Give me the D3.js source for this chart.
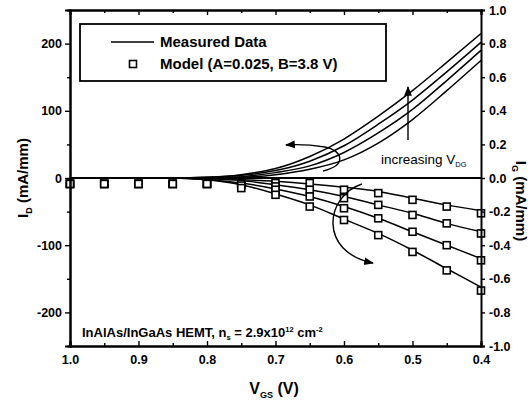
<!DOCTYPE html>
<html>
<head>
<meta charset="utf-8">
<title>HEMT drain and gate current</title>
<script src="https://cdn.jsdelivr.net/npm/d3@7"></script>
<style>
  body { margin: 0; background: #fff; }
  text { font-family: "Liberation Sans", Arial, sans-serif; fill: #000; }
</style>
</head>
<body>
<div id="chart"></div>
<script>
// gate voltage grid (V)
var vgs = [1.0, 0.95, 0.9, 0.85, 0.8, 0.75, 0.7, 0.65, 0.6, 0.55, 0.5, 0.45, 0.4];

// measured drain current I_D (mA/mm), four V_DG values
var id1 = [0, 0, 0, 0, 1, 5, 14, 32, 58, 92, 130, 172, 215];
var id2 = [0, 0, 0, 0, 1, 4, 11, 25, 48, 80, 116, 158, 202];
var id3 = [0, 0, 0, 0, 0, 2, 8, 18, 38, 67, 102, 145, 190];
var id4 = [0, 0, 0, 0, 0, 1, 5, 13, 27, 52, 87, 130, 175];

// measured gate current I_G (mA/mm)
var ig1 = [0, 0, 0, 0, -0.005, -0.01, -0.02, -0.035, -0.055, -0.08, -0.12, -0.16, -0.195];
var ig2 = [0, 0, 0, 0, -0.005, -0.015, -0.04, -0.07, -0.11, -0.16, -0.21, -0.27, -0.32];
var ig3 = [0, 0, 0, 0, -0.01, -0.03, -0.065, -0.11, -0.17, -0.24, -0.32, -0.40, -0.48];
var ig4 = [0, 0, 0, 0, -0.01, -0.04, -0.095, -0.16, -0.245, -0.33, -0.43, -0.54, -0.65];

// model I_G (squares)
var mg1 = [-0.035, -0.035, -0.035, -0.035, -0.035, -0.03, -0.03, -0.03, -0.07, -0.09, -0.13, -0.17, -0.21];
var mg2 = [-0.035, -0.035, -0.035, -0.035, -0.035, -0.035, -0.05, -0.07, -0.12, -0.16, -0.22, -0.27, -0.33];
var mg3 = [-0.035, -0.035, -0.035, -0.035, -0.035, -0.045, -0.07, -0.11, -0.18, -0.24, -0.32, -0.40, -0.49];
var mg4 = [-0.035, -0.035, -0.035, -0.035, -0.035, -0.06, -0.10, -0.17, -0.25, -0.34, -0.44, -0.55, -0.67];

var xTicks = [1.0, 0.9, 0.8, 0.7, 0.6, 0.5, 0.4];
var yTicks = [-200, -100, 0, 100, 200];
var yRTicks = [-1.0, -0.8, -0.6, -0.4, -0.2, 0.0, 0.2, 0.4, 0.6, 0.8, 1.0];

var W = 531, H = 401;
var L = 70, R = 481, T = 10, B = 346;

var svg = d3.select('#chart').append('svg').attr('width', W).attr('height', H);

var x = d3.scaleLinear().domain([1.0, 0.4]).range([L, R]);
var y = d3.scaleLinear().domain([-250, 250]).range([B, T]);
var yR = d3.scaleLinear().domain([-1, 1]).range([B, T]);

// zero line
svg.append('line')
  .attr('x1', x(1.0)).attr('x2', x(0.4))
  .attr('y1', y(0)).attr('y2', y(0))
  .attr('stroke', '#000').attr('stroke-width', 1.8);

// measured curves
var lineD = d3.line().x(function(d, i) { return x(vgs[i]); }).y(function(d) { return y(d); }).curve(d3.curveMonotoneX);
var lineG = d3.line().x(function(d, i) { return x(vgs[i]); }).y(function(d) { return yR(d); }).curve(d3.curveMonotoneX);

[id1, id2, id3, id4].forEach(function(s) {
  svg.append('path').attr('d', lineD(s)).attr('fill', 'none').attr('stroke', '#000').attr('stroke-width', 1.5);
});
[ig1, ig2, ig3, ig4].forEach(function(s) {
  svg.append('path').attr('d', lineG(s)).attr('fill', 'none').attr('stroke', '#000').attr('stroke-width', 1.5);
});

// model squares
var sq = 7;
[mg1, mg2, mg3, mg4].forEach(function(s) {
  svg.append('g').selectAll('rect').data(s).enter().append('rect')
    .attr('x', function(d, i) { return x(vgs[i]) - sq / 2; })
    .attr('y', function(d) { return yR(d) - sq / 2; })
    .attr('width', sq).attr('height', sq)
    .attr('fill', '#fff').attr('stroke', '#000').attr('stroke-width', 1.6);
});

// axes
var minorX = [0.95, 0.85, 0.75, 0.65, 0.55, 0.45];
var gB = svg.append('g').attr('transform', 'translate(0,' + B + ')')
  .call(d3.axisBottom(x).tickValues(xTicks).tickFormat(d3.format('.1f')).tickSize(-5).tickPadding(9));
var gBm = svg.append('g').attr('transform', 'translate(0,' + B + ')')
  .call(d3.axisBottom(x).tickValues(minorX).tickFormat('').tickSize(-3));
var gT = svg.append('g').attr('transform', 'translate(0,' + T + ')')
  .call(d3.axisTop(x).tickValues(xTicks).tickFormat('').tickSize(-5));
var gTm = svg.append('g').attr('transform', 'translate(0,' + T + ')')
  .call(d3.axisTop(x).tickValues(minorX).tickFormat('').tickSize(-3));
var gL = svg.append('g').attr('transform', 'translate(' + L + ',0)')
  .call(d3.axisLeft(y).tickValues(yTicks).tickSize(5).tickPadding(3));
var gLm = svg.append('g').attr('transform', 'translate(' + L + ',0)')
  .call(d3.axisLeft(y).tickValues([-150, -50, 50, 150]).tickFormat('').tickSize(3));
var gR = svg.append('g').attr('transform', 'translate(' + R + ',0)')
  .call(d3.axisRight(yR).tickValues(yRTicks).tickFormat(d3.format('.1f')).tickSize(4).tickPadding(4));

[gB, gBm, gT, gTm, gL, gLm, gR].forEach(function(g) {
  g.select('.domain').attr('stroke', '#000').attr('stroke-width', 2);
  g.selectAll('.tick line').attr('stroke', '#000').attr('stroke-width', 1.4);
  g.selectAll('.tick text').attr('font-size', 12.5).attr('font-weight', 'bold')
    .attr('font-family', '"Liberation Sans", Arial, sans-serif').attr('fill', '#000');
});
gR.selectAll('.tick text').text(function(d) { return d3.format('.1f')(d).replace('−', '-'); });
gL.selectAll('.tick text').text(function(d) { return String(d); });
gB.selectAll('.tick text').attr('dy', '0.71em');

// axis titles
var tL = svg.append('text').attr('transform', 'translate(28,' + y(0) + ') rotate(-90)')
  .attr('text-anchor', 'middle').attr('font-size', 15).attr('font-weight', 'bold');
tL.append('tspan').text('I');
tL.append('tspan').attr('font-size', 9).attr('dy', 4).text('D');
tL.append('tspan').attr('dy', -4).text(' (mA/mm)');

var tR = svg.append('text').attr('transform', 'translate(516,201) rotate(90)')
  .attr('text-anchor', 'middle').attr('font-size', 15).attr('font-weight', 'bold');
tR.append('tspan').text('I');
tR.append('tspan').attr('font-size', 9).attr('dy', 4).text('G');
tR.append('tspan').attr('dy', -4).text(' (mA/mm)');

var tX = svg.append('text').attr('x', 274).attr('y', 394)
  .attr('text-anchor', 'middle').attr('font-size', 16).attr('font-weight', 'bold');
tX.append('tspan').text('V');
tX.append('tspan').attr('font-size', 9).attr('dy', 4).text('GS');
tX.append('tspan').attr('dy', -4).text(' (V)');

// legend
svg.append('rect').attr('x', 80).attr('y', 24).attr('width', 306).attr('height', 57)
  .attr('fill', '#fff').attr('stroke', '#000').attr('stroke-width', 1.8);
svg.append('line').attr('x1', 111).attr('x2', 154).attr('y1', 42).attr('y2', 42)
  .attr('stroke', '#000').attr('stroke-width', 1.4);
svg.append('text').attr('x', 160).attr('y', 47).attr('font-size', 15).attr('font-weight', 'bold').text('Measured Data');
svg.append('rect').attr('x', 133 - sq / 2).attr('y', 64 - sq / 2).attr('width', sq).attr('height', sq)
  .attr('fill', '#fff').attr('stroke', '#000').attr('stroke-width', 1.6);
svg.append('text').attr('x', 160).attr('y', 69).attr('font-size', 15).attr('font-weight', 'bold').text('Model (A=0.025, B=3.8 V)');

// device note
var note = svg.append('text').attr('x', 82).attr('y', 337).attr('font-size', 13).attr('font-weight', 'bold');
note.append('tspan').text('InAlAs/InGaAs HEMT, n');
note.append('tspan').attr('font-size', 7.5).attr('dy', 3).text('s');
note.append('tspan').attr('dy', -3).text(' = 2.9x10');
note.append('tspan').attr('font-size', 7.5).attr('dy', -5).text('12');
note.append('tspan').attr('dy', 5).text(' cm');
note.append('tspan').attr('font-size', 7.5).attr('dy', -5).text('-2');

// increasing V_DG
var inc = svg.append('text').attr('x', 381).attr('y', 164).attr('font-size', 13.5);
inc.append('tspan').text('increasing V');
inc.append('tspan').attr('font-size', 7.5).attr('dy', 3).text('DG');

// arrows
var defs = svg.append('defs');
defs.append('marker').attr('id', 'ah').attr('viewBox', '0 0 10 10').attr('refX', 9).attr('refY', 5)
  .attr('markerWidth', 7).attr('markerHeight', 7).attr('orient', 'auto')
  .append('path').attr('d', 'M0,1 L10,5 L0,9 Z').attr('fill', '#000');

svg.append('line').attr('x1', 408).attr('y1', 140).attr('x2', 408).attr('y2', 87)
  .attr('stroke', '#000').attr('stroke-width', 1.4).attr('marker-end', 'url(#ah)');
svg.append('path').attr('d', 'M323,171 C348,165 342,150 325,147 C312,145 300,144 286,145')
  .attr('fill', 'none').attr('stroke', '#000').attr('stroke-width', 1.4).attr('marker-end', 'url(#ah)');
svg.append('path').attr('d', 'M362,184 C325,196 318,252 373,263')
  .attr('fill', 'none').attr('stroke', '#000').attr('stroke-width', 1.4).attr('marker-end', 'url(#ah)');
</script>
</body>
</html>
